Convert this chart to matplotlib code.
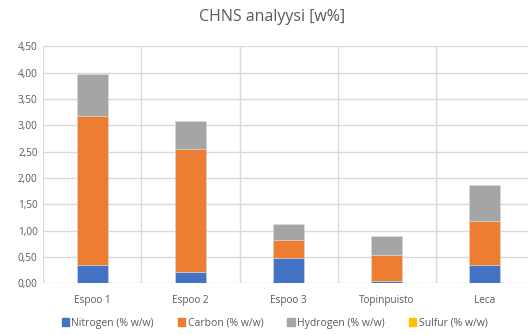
import numpy as np
import matplotlib.pyplot as plt
from matplotlib.patches import Patch

plt.rcParams['font.family'] = ['Open Sans', 'DejaVu Sans']

samples = ['Espoo 1', 'Espoo 2', 'Espoo 3', 'Topinpuisto', 'Leca']
nitrogen = [0.35, 0.21, 0.49, 0.04, 0.35]
carbon = [2.83, 2.34, 0.33, 0.50, 0.83]
hydrogen = [0.79, 0.54, 0.30, 0.36, 0.68]
sulfur = [0.0, 0.0, 0.0, 0.0, 0.0]

series = [
    ('Nitrogen (% w/w)', nitrogen, '#4472c4'),
    ('Carbon (% w/w)', carbon, '#ed7d31'),
    ('Hydrogen (% w/w)', hydrogen, '#a5a5a5'),
    ('Sulfur (% w/w)', sulfur, '#ffc000'),
]

fig = plt.figure(figsize=(5.28, 3.35), dpi=100)
ax = fig.add_axes([0.082, 0.154, 0.929, 0.708])

x = np.arange(len(samples))
bottom = np.zeros(len(samples))
for name, vals, col in series:
    ax.bar(x, vals, 0.32, bottom=bottom, color=col, label=name,
           edgecolor='#d9d9d9', linewidth=0.4, zorder=3)
    bottom += np.array(vals)

ax.set_xlim(-0.5, len(samples) - 0.5)
ax.set_ylim(0, 4.5)
ax.set_yticks(np.arange(0, 4.51, 0.5))
ax.set_yticklabels([f'{v:.2f}'.replace('.', ',') for v in np.arange(0, 4.51, 0.5)])
ax.set_xticks(x)
ax.set_xticklabels(samples)
ax.set_xticks(np.arange(-0.5, len(samples)), minor=True)

ax.grid(axis='y', which='major', color='#d9d9d9', linewidth=1, zorder=0)
ax.grid(axis='x', which='minor', color='#d9d9d9', linewidth=1, zorder=0)
ax.tick_params(axis='both', which='both', length=0, labelsize=7.2, labelcolor='#595959')
ax.tick_params(axis='x', pad=8)
ax.tick_params(axis='y', pad=4)
for s in ax.spines.values():
    s.set_visible(False)

fig.text(0.515, 0.948, 'CHNS analyysi [w%]', ha='center', va='center',
         fontsize=11.5, color='#595959')

handles = [Patch(color=c, label=n) for n, _, c in series]
fig.legend(handles=handles, loc='center', bbox_to_anchor=(0.52, 0.035), ncol=4,
           frameon=False, fontsize=7.5, labelcolor='#595959', handlelength=0.7,
           handleheight=0.7, handletextpad=0.25, columnspacing=2.3)

fig.savefig('out.png', dpi=100)
